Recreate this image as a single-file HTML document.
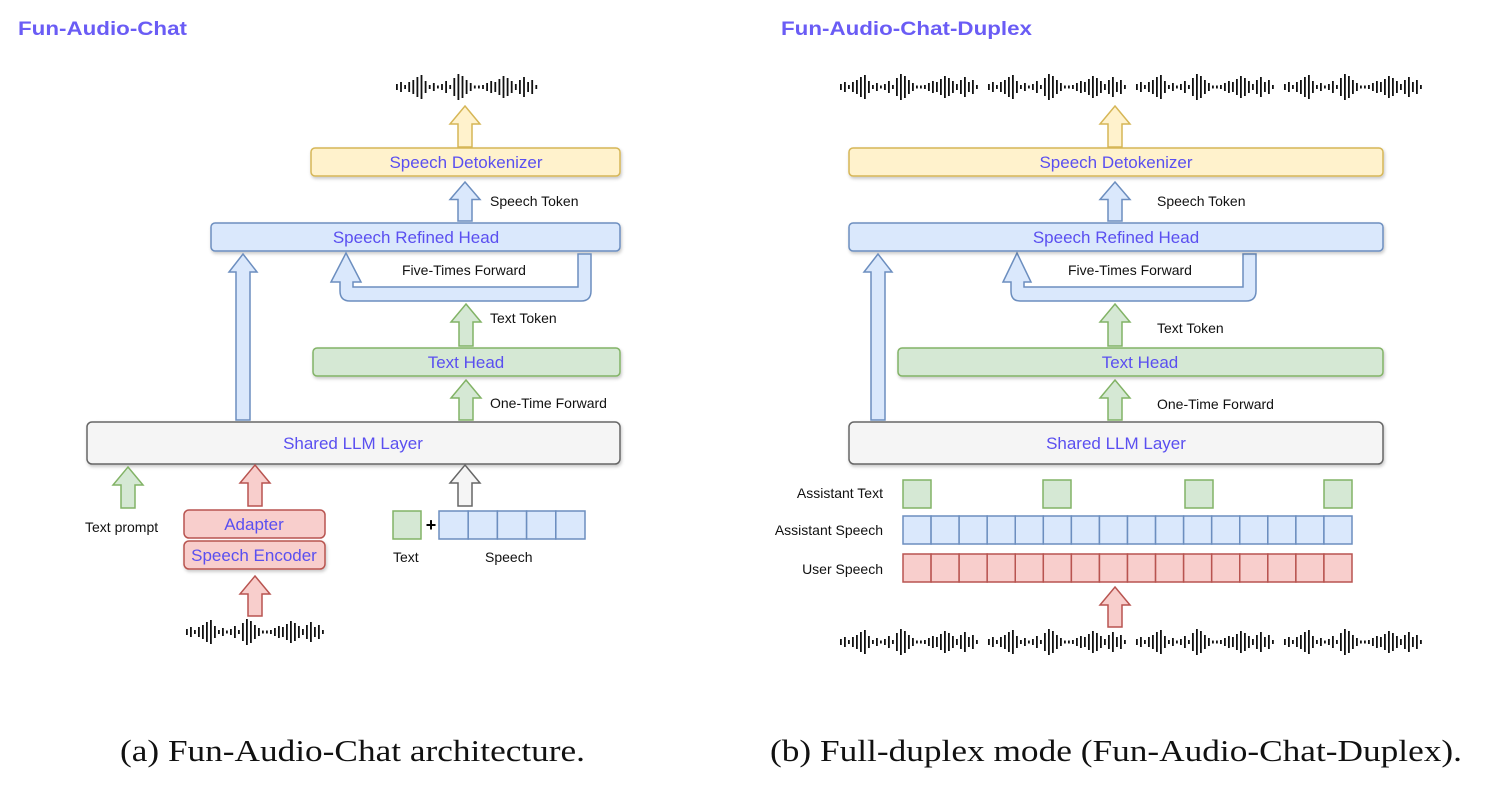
<!DOCTYPE html>
<html><head><meta charset="utf-8">
<style>
html,body{margin:0;padding:0;background:#fff;}
svg{display:block;}
.lb{font-family:"Liberation Sans",sans-serif;font-size:14px;fill:#111;}
.bl{font-family:"Liberation Sans",sans-serif;font-size:17px;fill:#5a4ff0;text-anchor:middle;}
.cap{font-family:"Liberation Serif",serif;font-size:31px;fill:#111;}
.tt{font-family:"Liberation Sans",sans-serif;font-size:19px;font-weight:bold;fill:#6a5cf5;}
</style></head><body>
<svg id="s" width="1495" height="797" viewBox="0 0 1495 797" xmlns="http://www.w3.org/2000/svg">
<defs><filter id="sh" x="-5%" y="-30%" width="110%" height="170%"><feDropShadow dx="1" dy="2" stdDeviation="1.5" flood-color="#000" flood-opacity="0.22"/></filter></defs>
<text class="tt" x="18" y="35" textLength="169" lengthAdjust="spacingAndGlyphs">Fun-Audio-Chat</text>
<text class="tt" x="781" y="35" textLength="251" lengthAdjust="spacingAndGlyphs">Fun-Audio-Chat-Duplex</text>

<rect x="311" y="148" width="309" height="28" rx="4" fill="#fff2cc" stroke="#d6b656" stroke-width="1.5" filter="url(#sh)"/>
<text class="bl" x="466" y="168">Speech Detokenizer</text>
<rect x="211" y="223" width="409" height="28" rx="4" fill="#dae8fc" stroke="#6c8ebf" stroke-width="1.5" filter="url(#sh)"/>
<text class="bl" x="416" y="243">Speech Refined Head</text>
<rect x="313" y="348" width="307" height="28" rx="4" fill="#d5e8d4" stroke="#82b366" stroke-width="1.5" filter="url(#sh)"/>
<text class="bl" x="466" y="368">Text Head</text>
<rect x="87" y="422" width="533" height="42" rx="5" fill="#f5f5f5" stroke="#666" stroke-width="1.5" filter="url(#sh)"/>
<text class="bl" x="353" y="449">Shared LLM Layer</text>
<rect x="184" y="510" width="141" height="28" rx="5" fill="#f8cecc" stroke="#b85450" stroke-width="1.5"/>
<text class="bl" x="254" y="530">Adapter</text>
<rect x="184" y="541" width="141" height="28" rx="5" fill="#f8cecc" stroke="#b85450" stroke-width="1.5" filter="url(#sh)"/>
<text class="bl" x="254" y="561">Speech Encoder</text>
<rect x="393" y="511" width="28" height="28" fill="#d5e8d4" stroke="#82b366" stroke-width="1.5"/>
<text x="431" y="531" font-family="Liberation Sans" font-weight="bold" font-size="18" text-anchor="middle">+</text>
<g id="lspeech"></g>
<text class="lb" x="393" y="562">Text</text>
<text class="lb" x="485" y="562">Speech</text>
<text class="lb" x="490" y="206">Speech Token</text>
<text class="lb" x="402" y="275">Five-Times Forward</text>
<text class="lb" x="490" y="323">Text Token</text>
<text class="lb" x="490" y="408">One-Time Forward</text>
<text class="lb" x="85" y="532">Text prompt</text>

<path d="M331 282 L346 253 L361 282 L353 282 L353 287 L578 287 L578 254 L591 254 L591 291 Q591 301 581 301 L350 301 Q340 301 340 291 L340 282 Z" fill="#dae8fc" stroke="#6c8ebf" stroke-width="1.5"/>
<path d="M1003 282 L1017 253 L1031 282 L1024 282 L1024 287 L1243 287 L1243 254 L1256 254 L1256 291 Q1256 301 1246 301 L1020 301 Q1011 301 1011 291 L1011 282 Z" fill="#dae8fc" stroke="#6c8ebf" stroke-width="1.5"/>

<rect x="849" y="148" width="534" height="28" rx="4" fill="#fff2cc" stroke="#d6b656" stroke-width="1.5" filter="url(#sh)"/>
<text class="bl" x="1116" y="168">Speech Detokenizer</text>
<rect x="849" y="223" width="534" height="28" rx="4" fill="#dae8fc" stroke="#6c8ebf" stroke-width="1.5" filter="url(#sh)"/>
<text class="bl" x="1116" y="243">Speech Refined Head</text>
<rect x="898" y="348" width="485" height="28" rx="4" fill="#d5e8d4" stroke="#82b366" stroke-width="1.5" filter="url(#sh)"/>
<text class="bl" x="1140" y="368">Text Head</text>
<rect x="849" y="422" width="534" height="42" rx="5" fill="#f5f5f5" stroke="#666" stroke-width="1.5" filter="url(#sh)"/>
<text class="bl" x="1116" y="449">Shared LLM Layer</text>
<text class="lb" x="1157" y="206">Speech Token</text>
<text class="lb" x="1068" y="275">Five-Times Forward</text>
<text class="lb" x="1157" y="333">Text Token</text>
<text class="lb" x="1157" y="409">One-Time Forward</text>
<text class="lb" x="883" y="498" text-anchor="end">Assistant Text</text>
<text class="lb" x="883" y="535" text-anchor="end">Assistant Speech</text>
<text class="lb" x="883" y="574" text-anchor="end">User Speech</text>
<g id="rows"></g>
<g id="arrows"></g>
<g id="waves"></g>

<text class="cap" x="120" y="761" textLength="465" lengthAdjust="spacingAndGlyphs">(a) Fun-Audio-Chat architecture.</text>
<text class="cap" x="770" y="761" textLength="692" lengthAdjust="spacingAndGlyphs">(b) Full-duplex mode (Fun-Audio-Chat-Duplex).</text>
</svg>
<script>
var NS="http://www.w3.org/2000/svg";
function el(g,tag,a){var e=document.createElementNS(NS,tag);for(var k in a)e.setAttribute(k,a[k]);document.getElementById(g).appendChild(e);return e;}
function arrow(cx,tip,base,hw,sw,fill,stroke){
 var hh=Math.min(18,(base-tip)*0.45);
 var d="M"+cx+" "+tip+" L"+(cx+hw)+" "+(tip+hh)+" L"+(cx+sw)+" "+(tip+hh)+" L"+(cx+sw)+" "+base+" L"+(cx-sw)+" "+base+" L"+(cx-sw)+" "+(tip+hh)+" L"+(cx-hw)+" "+(tip+hh)+" Z";
 el("arrows","path",{d:d,fill:fill,stroke:stroke,"stroke-width":1.5});
}
var Y=["#fff2cc","#d6b656"],B=["#dae8fc","#6c8ebf"],G=["#d5e8d4","#82b366"],R=["#f8cecc","#b85450"],K=["#f5f5f5","#666"];
arrow(465,106,147,15,7,Y[0],Y[1]);
arrow(465,182,221,15,7,B[0],B[1]);
arrow(243,254,420,14,7,B[0],B[1]);
arrow(466,304,346,15,7,G[0],G[1]);
arrow(466,380,420,15,7,G[0],G[1]);
arrow(128,467,508,15,7,G[0],G[1]);
arrow(255,465,506,15,7,R[0],R[1]);
arrow(255,576,616,15,7,R[0],R[1]);
arrow(465,465,506,15,7,K[0],K[1]);
arrow(1115,106,147,15,7,Y[0],Y[1]);
arrow(1115,182,221,15,7,B[0],B[1]);
arrow(878,254,420,14,7,B[0],B[1]);
arrow(1115,304,346,15,7,G[0],G[1]);
arrow(1115,380,420,15,7,G[0],G[1]);
arrow(1115,587,627,15,7,R[0],R[1]);
for(var i=0;i<5;i++)el("lspeech","rect",{x:439+i*29.2,y:511,width:29.2,height:28,fill:B[0],stroke:B[1],"stroke-width":1.5});
var cw=(1352-903)/16;
for(var i=0;i<16;i++){
 el("rows","rect",{x:903+i*cw,y:516,width:cw,height:28,fill:B[0],stroke:B[1],"stroke-width":1.5});
 el("rows","rect",{x:903+i*cw,y:554,width:cw,height:28,fill:R[0],stroke:R[1],"stroke-width":1.5});
}
[903,1043,1185,1324].forEach(function(x){el("rows","rect",{x:x,y:480,width:28,height:28,fill:G[0],stroke:G[1],"stroke-width":1.5});});
var H=[6,10,4,10,14,20,24,12,4,8,3,6,12,4,18,26,22,14,8,3,3,4,8,12,10,16,22,18,12,6,14,20,10,14,4];
function wave(x0,cy,reps,pitch){
 var x=x0;
 for(var r=0;r<reps;r++){
  for(var j=0;j<H.length;j++){
   el("waves","rect",{x:x,y:cy-H[j]/2,width:1.8,height:H[j],fill:"#111"});
   x+=pitch;
  }
  x+=8;
 }
}
wave(396,87,1,4.1);
wave(186,632,1,4.0);
wave(840,87,4,4.0);
wave(840,642,4,4.0);
</script>
</body></html>
